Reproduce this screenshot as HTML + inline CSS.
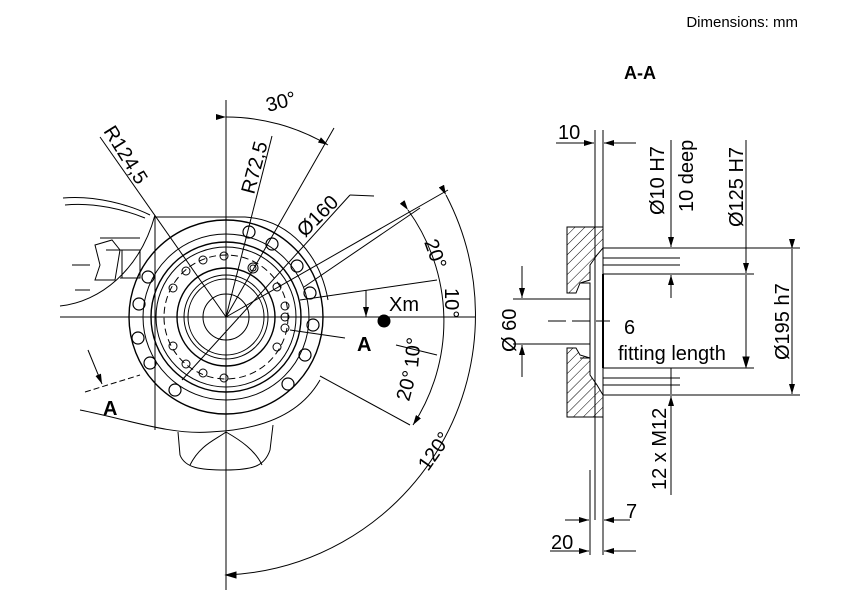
<!DOCTYPE html>
<html><head><meta charset="utf-8"><style>
html,body{margin:0;padding:0;background:#fff;width:858px;height:601px;overflow:hidden}
svg{display:block;font-family:"Liberation Sans",sans-serif}
</style></head><body>
<svg width="858" height="601" viewBox="0 0 858 601" xmlns="http://www.w3.org/2000/svg">
<defs>
<marker id="ar" markerWidth="10" markerHeight="6" refX="10" refY="3" orient="auto" markerUnits="userSpaceOnUse"><path d="M0,0 L10,3 L0,6 z" fill="#000"/></marker>
<pattern id="hat" width="7" height="7" patternUnits="userSpaceOnUse" patternTransform="rotate(45)"><line x1="0" y1="0" x2="0" y2="7" stroke="#000" stroke-width="1"/></pattern>
</defs>
<g fill="none" stroke="#000" stroke-width="1">
<text x="798" y="27" font-size="15" fill="#000" stroke="none" text-anchor="end">Dimensions: mm</text>
<text x="640" y="79" font-size="18" font-weight="bold" fill="#000" stroke="none" text-anchor="middle">A-A</text>

<path d="M63,198 C95,195 130,205 150,215"/>
<path d="M65,205 C95,202 125,210 145,218"/>
<path d="M60,306 C100,302 140,270 155,215"/>
<path d="M155,217 L155,430"/>
<path d="M155,217 L245,217 C290,220 320,255 328,300"/>
<path d="M80,410 C130,420 170,435 210,432 C260,430 300,415 320,380"/>
<path d="M178,432 L180,455 C185,468 200,470 226,470 C255,470 265,465 270,450 L273,425"/>
<path d="M190,465 C200,445 215,440 226,432 C240,440 255,450 262,465"/>
<path d="M100,238 L140,238 M95,245 L100,265 L95,280 L115,280 L120,250 L112,240 Z M106,250 L140,250 L140,278 L120,278 M122,250 L122,278"/>
<path d="M72,265 L90,265 M75,290 L90,290"/>
<line x1="226" y1="100" x2="226" y2="590"/>
<line x1="60" y1="317" x2="475" y2="317"/>
<circle cx="226" cy="317" r="97" stroke-width="1.4"/>
<circle cx="226" cy="317" r="83"/>
<circle cx="226" cy="317" r="75" stroke-width="1.4"/>
<circle cx="226" cy="317" r="70"/>
<circle cx="226" cy="317" r="62" stroke-dasharray="7,4"/>
<circle cx="226" cy="317" r="49" stroke-width="1.4"/>
<circle cx="226" cy="317" r="42"/>
<circle cx="226" cy="317" r="38"/>
<circle cx="226" cy="317" r="23"/>
<g stroke-width="1.2">
<circle cx="249" cy="232" r="6"/><circle cx="272" cy="244" r="6"/><circle cx="297" cy="266" r="6"/><circle cx="310" cy="293" r="6"/><circle cx="313" cy="325" r="6"/><circle cx="305" cy="355" r="6"/><circle cx="288" cy="384" r="6"/><circle cx="175" cy="390" r="6"/><circle cx="150" cy="363" r="6"/><circle cx="138" cy="338" r="6"/><circle cx="139" cy="304" r="6"/><circle cx="148" cy="277" r="6"/>
</g>
<g stroke-width="1">
<circle cx="224" cy="256" r="4"/><circle cx="203" cy="260" r="4"/><circle cx="186" cy="271" r="4"/><circle cx="173" cy="288" r="4"/><circle cx="277" cy="287" r="4"/><circle cx="285" cy="306" r="4"/><circle cx="285" cy="317" r="4"/><circle cx="285" cy="328" r="4"/><circle cx="277" cy="347" r="4"/><circle cx="173" cy="346" r="4"/><circle cx="186" cy="364" r="4"/><circle cx="203" cy="373" r="4"/><circle cx="224" cy="378" r="4"/><circle cx="253" cy="268" r="5"/><circle cx="253" cy="268" r="3"/>
</g>
<line x1="226" y1="317" x2="334" y2="128"/>
<line x1="226" y1="317" x2="100" y2="137"/>
<line x1="226" y1="317" x2="272" y2="136"/>
<line x1="182" y1="380" x2="350" y2="195" />
<line x1="350" y1="195" x2="374" y2="196"/>
<line x1="226" y1="317" x2="448" y2="190"/>
<line x1="304" y1="287" x2="420" y2="208"/>
<line x1="300" y1="300" x2="437" y2="280"/>
<line x1="290" y1="330" x2="345" y2="338"/>
<line x1="320" y1="376" x2="410" y2="425"/>
<line x1="396" y1="345" x2="437" y2="355"/>
<line x1="85" y1="392" x2="140" y2="375" stroke-dasharray="6,3"/>
<path d="M226,117 A200,200 0 0 1 328,145" marker-start="url(#ar)" marker-end="url(#ar)"/>
<path d="M408,210 A190,190 0 0 1 413,425" marker-start="url(#ar)" marker-end="url(#ar)"/>
<path d="M446,195 A260,260 0 0 1 226,575" marker-start="url(#ar)"/>
<path d="M226,575 L236,572 L236,578 Z" fill="#000"/>
<line x1="366" y1="290" x2="366" y2="317" marker-end="url(#ar)"/>
<line x1="88" y1="350" x2="102" y2="384" marker-end="url(#ar)"/>
<circle cx="384" cy="321" r="6" fill="#000"/>
</g>
<g fill="#000" font-size="20">
<text x="268" y="112" transform="rotate(-15 268 112)">30°</text>
<text x="103" y="131" transform="rotate(58 103 131)">R124,5</text>
<text x="254" y="195" transform="rotate(-75 254 195)">R72,5</text>
<text x="305" y="238" transform="rotate(-45 305 238)">Ø160</text>
<text x="424" y="242" transform="rotate(70 424 242)">20°</text>
<text x="445" y="288" transform="rotate(90 445 288)">10°</text>
<text x="418" y="368" transform="rotate(-85 418 368)">10°</text>
<text x="409" y="402" transform="rotate(-75 409 402)">20°</text>
<text x="428" y="472" transform="rotate(-55 428 472)">120°</text>
<text x="389" y="311">Xm</text>
<text x="357" y="351" font-weight="bold">A</text>
<text x="103" y="415" font-weight="bold">A</text>
</g>

<g fill="none" stroke="#000" stroke-width="1">
<path d="M567,227 L603,227 L603,248 L597,255 L590,265 L590,280 L580,283 L576,293 L567,293 Z" fill="url(#hat)"/>
<path d="M567,348 L576,348 L580,355 L590,358 L590,375 L597,385 L603,395 L603,417 L567,417 Z" fill="url(#hat)"/>
<path d="M580,283 L590,283 L590,358 L580,358"/>
<line x1="603" y1="274" x2="603" y2="368" stroke-width="2"/>
<line x1="595" y1="130" x2="595" y2="520"/>
<line x1="603" y1="130" x2="603" y2="555"/>
<line x1="590" y1="470" x2="590" y2="555"/>
<line x1="603" y1="248" x2="800" y2="248"/>
<line x1="603" y1="274" x2="754" y2="274"/>
<line x1="603" y1="368" x2="754" y2="368"/>
<line x1="603" y1="395" x2="800" y2="395"/>
<line x1="603" y1="258" x2="680" y2="258"/><line x1="603" y1="265" x2="680" y2="265"/>
<line x1="603" y1="378" x2="680" y2="378"/><line x1="603" y1="385" x2="680" y2="385"/>
<line x1="513" y1="299" x2="590" y2="299"/>
<line x1="513" y1="344" x2="590" y2="344"/>
<line x1="548" y1="321" x2="610" y2="321" stroke-dasharray="18,6"/>
<line x1="522" y1="266" x2="522" y2="298" marker-end="url(#ar)"/>
<line x1="522" y1="377" x2="522" y2="345" marker-end="url(#ar)"/>
<line x1="556" y1="143" x2="594" y2="143" marker-end="url(#ar)"/>
<line x1="636" y1="143" x2="604" y2="143" marker-end="url(#ar)"/>
<line x1="671" y1="140" x2="671" y2="247" marker-end="url(#ar)"/>
<line x1="671" y1="298" x2="671" y2="275" marker-end="url(#ar)"/>
<line x1="746" y1="140" x2="746" y2="273" marker-end="url(#ar)"/>
<line x1="746" y1="367" x2="746" y2="275"/>
<path d="M746,367 l-3,-10 l6,0 z" fill="#000"/>
<line x1="792" y1="249" x2="792" y2="394" marker-start="url(#ar)" marker-end="url(#ar)"/>
<line x1="671" y1="368" x2="671" y2="394"/>
<line x1="671" y1="410" x2="671" y2="396" marker-end="url(#ar)"/>
<line x1="671" y1="400" x2="671" y2="495"/>
<line x1="565" y1="520" x2="589" y2="520" marker-end="url(#ar)"/>
<line x1="630" y1="520" x2="604" y2="520" marker-end="url(#ar)"/>
<line x1="550" y1="551" x2="589" y2="551" marker-end="url(#ar)"/>
<line x1="636" y1="551" x2="604" y2="551" marker-end="url(#ar)"/>
</g>
<g fill="#000" font-size="20">
<text x="558" y="139">10</text>
<text x="664" y="215" transform="rotate(-90 664 215)">Ø10 H7</text>
<text x="693" y="212" transform="rotate(-90 693 212)">10 deep</text>
<text x="743" y="227" transform="rotate(-90 743 227)">Ø125 H7</text>
<text x="789" y="360" transform="rotate(-90 789 360)">Ø195 h7</text>
<text x="516" y="352" transform="rotate(-90 516 352)">Ø 60</text>
<text x="624" y="334">6</text>
<text x="618" y="360">fitting length</text>
<text x="666" y="490" transform="rotate(-90 666 490)">12 x M12</text>
<text x="626" y="518">7</text>
<text x="551" y="549">20</text>
</g>
</svg>
</body></html>
